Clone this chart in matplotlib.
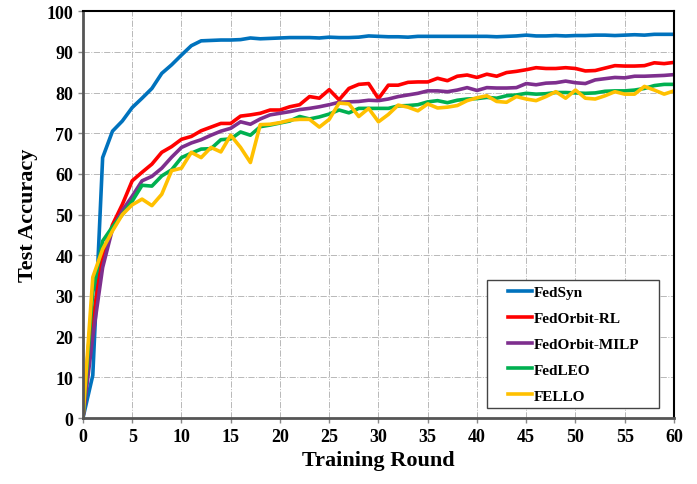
import numpy as np
import matplotlib
matplotlib.use("Agg")
import matplotlib.pyplot as plt
from matplotlib.legend_handler import HandlerLine2D
from matplotlib.lines import Line2D
from matplotlib.patches import Rectangle

rounds = np.arange(0, 61)

fedsyn = [0, 10.5, 64, 70.5, 73, 76.3, 78.6, 81, 84.7, 86.8, 89.2, 91.5, 92.7, 92.8, 92.9,
          92.9, 93.0, 93.4, 93.2, 93.3, 93.4, 93.5, 93.5, 93.5, 93.4, 93.6, 93.5, 93.5, 93.6,
          93.9, 93.8, 93.7, 93.7, 93.6, 93.8, 93.8, 93.8, 93.8, 93.8, 93.8, 93.8, 93.8, 93.7,
          93.8, 93.9, 94.1, 93.9, 93.9, 94.0, 93.9, 94.0, 94.0, 94.1, 94.1, 94.0, 94.1, 94.2,
          94.1, 94.3, 94.3, 94.3]
fedorbit_rl = [0, 24, 40, 47.5, 52.5, 58.3, 60.4, 62.4, 65.3, 66.7, 68.5, 69.2, 70.6, 71.5,
               72.4, 72.4, 74.2, 74.5, 74.9, 75.7, 75.7, 76.5, 77, 79, 78.6, 80.7, 78.2, 81,
               82, 82.2, 78.5, 81.8, 81.8, 82.5, 82.6, 82.6, 83.5, 82.9, 84, 84.3, 83.7, 84.5,
               84, 84.9, 85.2, 85.6, 86.1, 85.9, 85.9, 86.1, 85.9, 85.3, 85.4, 86, 86.6, 86.5,
               86.5, 86.6, 87.3, 87.1, 87.4]
fedorbit_milp = [0, 20, 37, 46.5, 51, 54.5, 58.3, 59.4, 61.4, 64.1, 66.5, 67.6, 68.4, 69.5,
                 70.5, 71.2, 72.8, 72.2, 73.5, 74.5, 74.9, 75.3, 75.8, 76.1, 76.5, 77, 77.6,
                 77.7, 77.8, 78.1, 78, 78.4, 79, 79.4, 79.8, 80.4, 80.4, 80.2, 80.6, 81.2, 80.5,
                 81.2, 81.1, 81.1, 81.2, 82.2, 81.9, 82.3, 82.4, 82.8, 82.4, 82.2, 83.1, 83.4,
                 83.7, 83.6, 84, 84, 84.1, 84.2, 84.4]
fedleo = [0, 31, 43.5, 47, 50, 53.3, 57.2, 57, 59.5, 61, 64, 65.1, 66.1, 66.2, 68.4, 68.6,
          70.3, 69.5, 71.6, 72, 72.5, 73, 74.1, 73.5, 74, 74.7, 75.7, 75, 76.1, 76.1, 76.1,
          76.1, 76.7, 76.8, 77, 77.7, 78, 77.5, 78.1, 78.4, 78.5, 78.8, 78.6, 79.2, 79.4,
          79.8, 79.6, 79.7, 80, 80, 79.9, 79.8, 79.9, 80.3, 80.4, 80.4, 80.6, 81, 81.7, 82, 82]
fello = [0, 34.6, 41.5, 46, 50, 52.4, 53.8, 52.2, 55, 60.8, 61.4, 65.3, 64, 66.5, 65.4, 69.5,
         66.5, 62.8, 72.1, 72.2, 72.6, 73.2, 73.4, 73.4, 71.5, 73.4, 77.4, 77.2, 74.1, 76.1,
         72.8, 74.6, 76.9, 76.4, 75.5, 77.2, 76.2, 76.4, 76.8, 78, 78.7, 79.2, 77.8, 77.6, 79,
         78.4, 78, 79, 80.2, 78.6, 80.6, 78.6, 78.4, 79.2, 80.2, 79.6, 79.6, 81.5, 80.6, 79.6,
         80.4]

labels = ["FedSyn", "FedOrbit-RL", "FedOrbit-MILP", "FedLEO", "FELLO"]
colors = ["#0072BD", "#FF0000", "#7E2F8E", "#00B050", "#FFC000"]
series = [fedsyn, fedorbit_rl, fedorbit_milp, fedleo, fello]

plt.rcParams['font.family'] = ['Liberation Serif', 'DejaVu Serif']
plt.rcParams['font.weight'] = 'bold'

fig = plt.figure(figsize=(6.97, 4.85), dpi=100)
ax = fig.add_axes([0.119, 0.136, 0.848, 0.839])

for vals, lab, col in zip(series, labels, colors):
    ax.plot(rounds, vals, color=col, linewidth=2.6, label=lab)

ax.set_xlim(0, 60)
ax.set_ylim(0, 100)
ax.set_xticks(np.arange(0, 61, 5))
ax.set_yticks(np.arange(0, 101, 10))
ax.grid(True, linestyle='-.', color='#b8b8b8', linewidth=0.7)
ax.set_axisbelow(True)

ax.tick_params(axis='both', labelsize=13, length=3.5, width=1, color='#888888')
for t in ax.get_xticklabels() + ax.get_yticklabels():
    t.set_fontweight('bold')

for side in ['left', 'bottom']:
    ax.spines[side].set_color('#555555')
    ax.spines[side].set_linewidth(2)
for side in ['top', 'right']:
    ax.spines[side].set_color('black')
    ax.spines[side].set_linewidth(1.5)

ax.set_xlabel("Training Round", fontsize=16, fontweight='bold', labelpad=4)
ax.set_ylabel("Test Accuracy", fontsize=16, fontweight='bold', labelpad=6)

# legend without its own frame; a box with extra room on the right is drawn behind it
leg = ax.legend(loc='lower left', bbox_to_anchor=(0.6836, 0.0246), borderaxespad=0,
                handlelength=2.6, handletextpad=0.1, labelspacing=0.80,
                frameon=False, borderpad=0.35,
                prop={'weight': 'bold', 'size': 11},
                handler_map={Line2D: HandlerLine2D(xpad=1.03)})

fig.canvas.draw()
bb = leg.get_window_extent().transformed(ax.transAxes.inverted())
box_right = 0.975
frame = Rectangle((bb.x0, bb.y0), box_right - bb.x0, bb.height, transform=ax.transAxes,
                  facecolor='white', edgecolor='#444444', linewidth=1.0, zorder=4.9)
ax.add_patch(frame)
leg.set_zorder(5)

fig.savefig("out.png", dpi=100)
